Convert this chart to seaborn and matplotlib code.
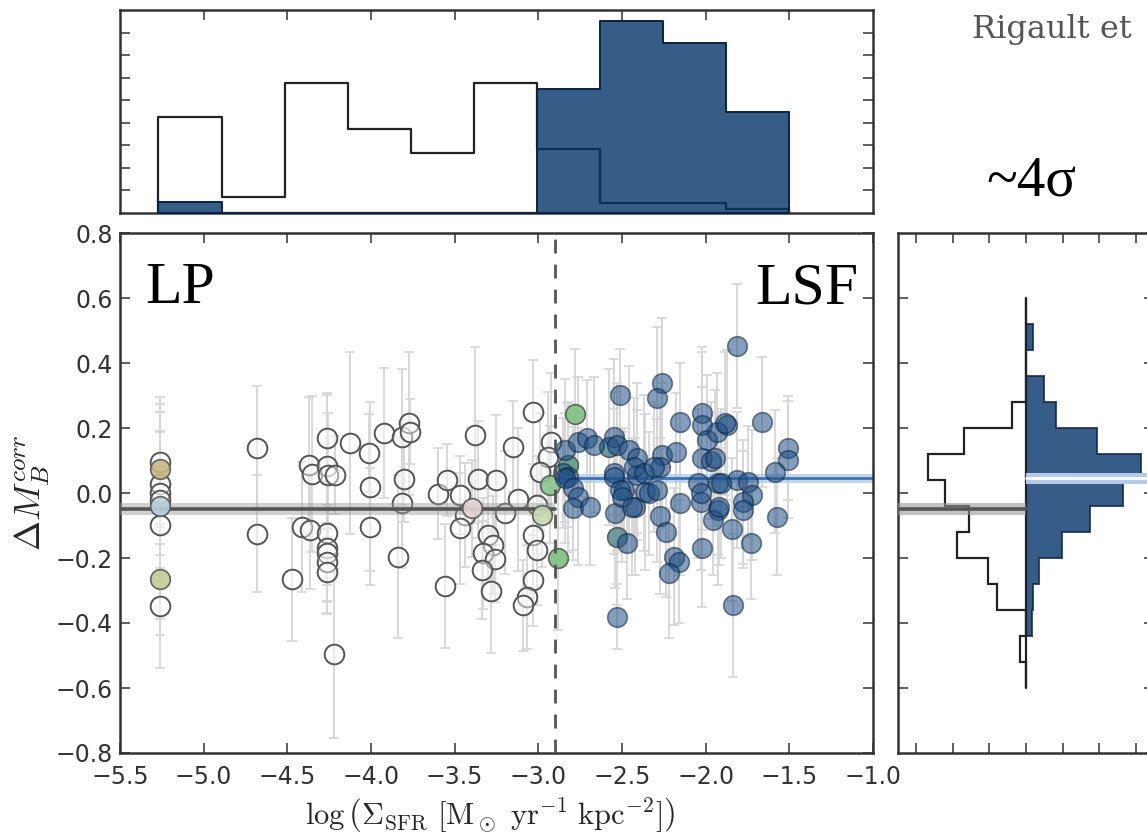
import numpy as np
import matplotlib
matplotlib.use("Agg")
import matplotlib.pyplot as plt
import seaborn as sns

sns.set_style("white")
plt.rcParams["font.family"] = ["DejaVu Sans"]
plt.rcParams["mathtext.fontset"] = "cm"

# ---------------- data ----------------
# Low-SF (passive) hosts, drawn as open circles
lp_x = [-5.26, -5.26, -5.26, -5.26, -5.26, -5.26, -4.68, -4.68, -4.47, -4.41,
        -4.365, -4.37, -4.355, -4.265, -4.265, -4.255, -4.215, -4.26, -4.26, -4.26,
        -4.26, -4.26, -4.22, -4.125, -4.01, -4.006, -4.006, -3.922, -3.816, -3.77,
        -3.767, -3.803, -3.816, -3.84, -3.597, -3.548, -3.558, -3.468, -3.438, -3.468,
        -3.378, -3.358, -3.252, -3.199, -3.299, -3.269, -3.329, -3.259, -3.339, -3.285,
        -3.149, -3.119, -3.03, -3.03, -3.01, -3.03, -3.069, -3.09, -2.926, -2.94,
        -2.99, -3.01]
lp_y = [0.096, 0.028, -0.001, -0.022, -0.098, -0.348, 0.138, -0.126, -0.266, -0.104,
        -0.114, 0.086, 0.058, 0.168, 0.082, 0.055, 0.055, -0.124, -0.170, -0.186,
        -0.211, -0.242, -0.495, 0.155, 0.122, 0.019, -0.104, 0.186, 0.173, 0.214,
        0.189, 0.042, -0.030, -0.196, -0.003, 0.040, -0.286, -0.006, -0.068, -0.109,
        0.178, 0.043, 0.040, -0.060, -0.129, -0.160, -0.186, -0.204, -0.237, -0.302,
        0.143, -0.019, 0.250, -0.129, -0.175, -0.268, -0.319, -0.345, 0.158, 0.112,
        0.066, -0.037]
lp_err = [0.20, 0.22, 0.25, 0.21, 0.29, 0.19, 0.19, 0.18, 0.19, 0.20,
          0.18, 0.21, 0.24, 0.14, 0.22, 0.19, 0.12, 0.16, 0.20, 0.15,
          0.12, 0.13, 0.26, 0.28, 0.12, 0.26, 0.18, 0.20, 0.21, 0.22,
          0.10, 0.13, 0.20, 0.25, 0.14, 0.11, 0.19, 0.12, 0.16, 0.17,
          0.27, 0.18, 0.20, 0.19, 0.14, 0.15, 0.17, 0.13, 0.15, 0.19,
          0.14, 0.22, 0.16, 0.18, 0.17, 0.14, 0.16, 0.14, 0.21, 0.20,
          0.18, 0.15]

# Hosts with intermediate classification probability, each with its own colour
mid_x = [-5.26, -5.26, -5.26, -3.398, -2.98, -2.93, -2.88, -2.78, -2.82, -2.58, -2.53]
mid_y = [0.073, -0.040, -0.266, -0.047, -0.068, 0.025, -0.201, 0.243, 0.086, 0.143, -0.134]
mid_err = [0.20, 0.23, 0.17, 0.15, 0.16, 0.18, 0.22, 0.20, 0.19, 0.24, 0.21]
mid_colors = ["#c9b684", "#b7d0da", "#c2cb92", "#e6d3d3", "#c8dab0", "#8cc48c",
              "#7dbe7d", "#7dbf80", "#5f9a8a", "#5a8fa0", "#5e929a"]

# Locally star-forming hosts, drawn as filled blue circles
lsf_x = [-2.84, -2.76, -2.71, -2.67, -2.55, -2.53, -2.85, -2.82, -2.84, -2.79,
         -2.76, -2.79, -2.69, -2.51, -2.26, -2.29, -2.153, -2.55, -2.55, -2.49,
         -2.46, -2.41, -2.41, -2.36, -2.26, -2.27, -2.18, -2.42, -2.54, -2.47,
         -2.27, -2.24, -2.153, -2.19, -2.16, -2.22, -2.53, -2.044, -2.03, -2.02,
         -2.02, -2.02, -1.99, -2.02, -1.97, -1.944, -1.81, -1.665, -1.874, -1.93,
         -1.884, -1.506, -1.51, -1.585, -1.924, -1.815, -1.745, -1.725, -1.775, -1.775,
         -1.924, -1.954, -1.844, -1.576, -1.73, -1.835, -2.43, -2.37, -2.31, -2.34,
         -2.29, -2.51, -2.50, -2.44, -2.03, -1.91, -1.92]
lsf_y = [0.132, 0.158, 0.168, 0.148, 0.173, 0.148, 0.061, 0.050, 0.045, 0.014,
         -0.011, -0.047, -0.042, 0.302, 0.338, 0.291, 0.219, 0.061, 0.050, 0.009,
         0.132, 0.107, 0.055, 0.004, 0.117, 0.081, 0.127, -0.042, -0.062, -0.155,
         -0.072, -0.119, -0.032, -0.196, -0.211, -0.247, -0.381, 0.030, -0.027, -0.170,
         0.245, 0.209, 0.163, 0.107, 0.100, 0.107, 0.452, 0.219, 0.209, 0.189,
         0.215, 0.138, 0.102, 0.066, 0.030, 0.040, 0.035, -0.006, -0.027, -0.052,
         -0.052, -0.083, -0.112, -0.073, -0.155, -0.345, 0.081, 0.061, 0.081, -0.001,
         0.009, 0.009, -0.011, -0.042, -0.001, 0.030, -0.042]
lsf_err = [0.22, 0.20, 0.18, 0.21, 0.24, 0.19, 0.17, 0.23, 0.20, 0.19,
           0.21, 0.16, 0.18, 0.14, 0.20, 0.22, 0.18, 0.25, 0.21, 0.19,
           0.26, 0.23, 0.20, 0.24, 0.22, 0.19, 0.18, 0.21, 0.23, 0.17,
           0.24, 0.20, 0.22, 0.21, 0.19, 0.20, 0.10, 0.23, 0.21, 0.18,
           0.19, 0.24, 0.20, 0.22, 0.18, 0.21, 0.19, 0.20, 0.23, 0.18,
           0.22, 0.16, 0.18, 0.19, 0.22, 0.21, 0.17, 0.20, 0.19, 0.18,
           0.23, 0.17, 0.22, 0.18, 0.17, 0.22, 0.21, 0.24, 0.20, 0.19,
           0.22, 0.18, 0.20, 0.21, 0.19, 0.23, 0.18]

# Population means of the two samples
lp_mean, lsf_mean = -0.05, 0.045
sfr_cut = -2.9

# Marginal histogram along log(Sigma_SFR)
top_edges = [-5.27, -4.893, -4.516, -4.139, -3.762, -3.385, -3.008, -2.631, -2.254, -1.877, -1.50]
top_lp = [4.25, 0.71, 5.75, 3.73, 2.68, 5.75, 2.83, 0.44, 0.44, 0.18]
top_lsf = [0.49, 0.0, 0.0, 0.0, 0.0, 0.0, 5.49, 8.53, 7.55, 4.47]

# Marginal histogram along Delta M_B (LP to the left, LSF to the right)
right_edges = [-0.60, -0.52, -0.44, -0.36, -0.28, -0.20, -0.12, -0.04,
               0.04, 0.12, 0.20, 0.28, 0.36, 0.44, 0.52, 0.60]
right_lp = [0.0, 0.16, 0.0, 0.79, 1.03, 1.90, 1.56, 2.22, 2.68, 1.70, 0.39, 0.0, 0.0, 0.0, 0.0]
right_lsf = [0.0, 0.0, 0.16, 0.20, 0.36, 0.98, 1.75, 2.64, 3.14, 1.94, 0.82, 0.49, 0.0, 0.18, 0.0]

# ---------------- figure ----------------
W, H = 1147, 840
fig = plt.figure(figsize=(W / 100, H / 100), dpi=100)


def box(l, t, r, b):
    return [l / W, 1 - b / H, (r - l) / W, (b - t) / H]


ax = fig.add_axes(box(120, 233, 873, 753))
ax_top = fig.add_axes(box(120, 10, 873, 213))
ax_r = fig.add_axes(box(898, 233, 1154, 753))

spine_col = "#333333"
tick_col = "#333333"
for a in (ax, ax_top, ax_r):
    for s in a.spines.values():
        s.set_color(spine_col)
        s.set_linewidth(1.8)
    a.tick_params(direction="in", length=7, width=1.1, color=spine_col,
                  top=True, right=True, bottom=True, left=True,
                  labelsize=17, labelcolor=tick_col)

LSF_FILL = "#023469"
LSF_EDGE = "#0b2240"

# ---- main scatter panel ----
all_x = lp_x + mid_x + lsf_x
all_y = lp_y + mid_y + lsf_y
all_e = lp_err + mid_err + lsf_err
ax.errorbar(all_x, all_y, yerr=all_e, fmt="none", ecolor="#d6d6d6",
            elinewidth=1.3, capsize=3.5, capthick=1.2, zorder=1)

sns.scatterplot(x=lp_x, y=lp_y, ax=ax, s=200, marker="o",
                facecolor=(1, 1, 1, 0.45), edgecolor="#555555", linewidth=1.4, zorder=3)

ax.axhspan(lp_mean - 0.018, lp_mean + 0.018, xmin=0, xmax=(sfr_cut + 5.5) / 4.5,
           color="#9a9a9a", alpha=0.45, lw=0, zorder=4)
ax.plot([-5.5, sfr_cut], [lp_mean, lp_mean], color="#555555", lw=2.6, zorder=4)

ax.axhspan(lsf_mean - 0.014, lsf_mean + 0.014, xmin=(sfr_cut + 5.5) / 4.5, xmax=1,
           color="#a9c6e8", alpha=0.7, lw=0, zorder=2)
ax.plot([sfr_cut, -1.0], [lsf_mean, lsf_mean], color="#3f72b3", lw=2.0, zorder=2)

for xi, yi, ci in zip(mid_x, mid_y, mid_colors):
    sns.scatterplot(x=[xi], y=[yi], ax=ax, s=200, color=ci, edgecolor="#555555",
                    linewidth=1.2, alpha=0.9, zorder=5)

sns.scatterplot(x=lsf_x, y=lsf_y, ax=ax, s=200, color="#1f4f85", edgecolor=LSF_EDGE,
                linewidth=1.2, alpha=0.55, zorder=5)

ax.axvline(sfr_cut, color="#555555", lw=2.0, dashes=(5, 4), zorder=6)

ax.set_xlim(-5.5, -1.0)
ax.set_ylim(-0.8, 0.8)
xt = np.arange(-5.5, -0.99, 0.5)
yt = np.arange(-0.8, 0.81, 0.2)
ax.set_xticks(xt)
ax.set_yticks(yt)
ax.set_xticklabels([f"{v:.1f}".replace("-", "\u2212") for v in xt])
ax.set_yticklabels([f"{v:.1f}".replace("-", "\u2212") if abs(v) > 1e-9 else "0.0"
                    for v in yt])
ax.tick_params(axis="x", pad=9)
ax.tick_params(axis="y", pad=5)
ax.set_xlabel("")
ax.set_ylabel("")

fig.text(32 / W, 1 - 493 / H, r"$\Delta M_B^{corr}$", rotation=90, fontsize=26,
         ha="center", va="center")
fig.text(490 / W, 1 - 816 / H,
         r"$\log\left(\Sigma_{\rm SFR}\ [{\rm M_\odot\ yr^{-1}\ kpc^{-2}}]\right)$",
         fontsize=22, ha="center", va="center")

# ---- top histogram ----
top_centers = [(a + b) / 2 for a, b in zip(top_edges[:-1], top_edges[1:])]
sns.histplot(x=top_centers, weights=top_lp, bins=top_edges, element="step", fill=True,
             color="white", edgecolor="#222222", linewidth=1.6, alpha=1.0, ax=ax_top, zorder=2)
sns.histplot(x=top_centers, weights=top_lsf, bins=top_edges, element="step", fill=True,
             color=LSF_FILL, edgecolor=LSF_EDGE, linewidth=1.4, alpha=0.8, ax=ax_top, zorder=3)
ax_top.set_xlim(-5.5, -1.0)
ax_top.set_ylim(0, 9)
ax_top.set_xticks(np.arange(-5.0, -1.49, 0.5))
ax_top.set_yticks(np.arange(1, 9))
ax_top.set_xticklabels([])
ax_top.set_yticklabels([])
ax_top.set_xlabel("")
ax_top.set_ylabel("")

# ---- right histogram ----
ax_r.stairs([-v for v in right_lp], right_edges, orientation="horizontal", baseline=0,
            fill=True, facecolor="white", edgecolor="#222222", lw=1.6, zorder=2)
ax_r.stairs(right_lsf, right_edges, orientation="horizontal", baseline=0,
            fill=True, facecolor=LSF_FILL, edgecolor=LSF_EDGE, lw=1.4, alpha=0.8, zorder=3)
ax_r.plot([0, 0], [right_edges[0], right_edges[-1]], color="#222222", lw=1.6, zorder=4)
ax_r.axhspan(lp_mean - 0.018, lp_mean + 0.018, xmin=0, xmax=0.5,
             color="#9a9a9a", alpha=0.6, lw=0, zorder=5)
ax_r.plot([-3.5, 0], [lp_mean, lp_mean], color="#555555", lw=2.6, zorder=5)
ax_r.axhspan(lsf_mean - 0.018, lsf_mean + 0.018, xmin=0.5, xmax=1,
             color="#b3cbe8", alpha=1.0, lw=0, zorder=5)
ax_r.plot([0, 3.5], [lsf_mean, lsf_mean], color="white", lw=2.0, zorder=6)
ax_r.set_xlim(-3.5, 3.5)
ax_r.set_ylim(-0.8, 0.8)
ax_r.set_xticks(np.arange(-3, 4))
ax_r.set_yticks(np.arange(-0.6, 0.61, 0.2))
ax_r.set_xticklabels([])
ax_r.set_yticklabels([])

# ---- annotations ----
fig.text(145 / W, 1 - 303 / H, "LP", fontsize=43, family="Liberation Serif",
         color="black", va="baseline", ha="left")
fig.text(858 / W, 1 - 303 / H, "LSF", fontsize=43, family="Liberation Serif",
         color="black", va="baseline", ha="right")
fig.text(986 / W, 1 - 195 / H, "~4\u03c3", fontsize=41, family="Liberation Serif",
         color="black", va="baseline", ha="left")
fig.text(972 / W, 1 - 38 / H, "Rigault et", fontsize=23, family="DejaVu Serif",
         color="#555555", va="baseline", ha="left")

fig.savefig("out.png", dpi=100)
